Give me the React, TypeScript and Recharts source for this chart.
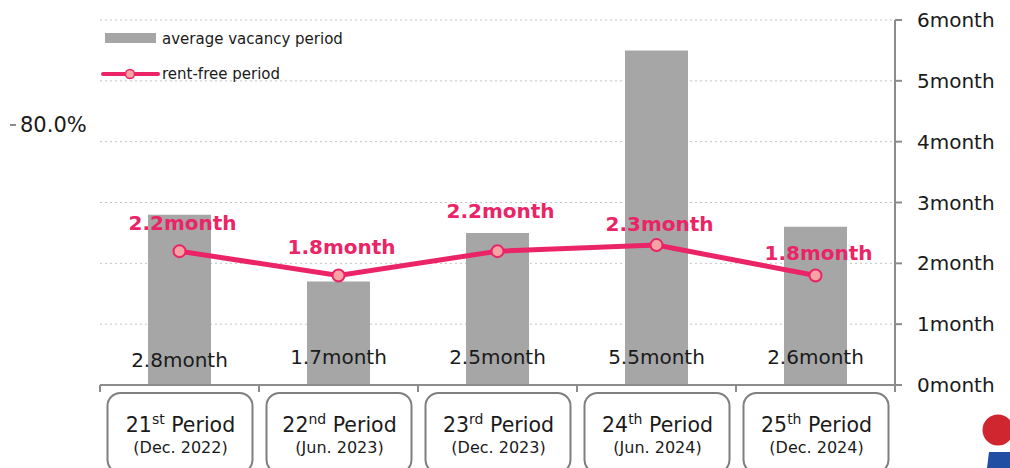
import React from "react";
import { ComposedChart, Bar, Line, XAxis, YAxis, CartesianGrid, LabelList } from "recharts";

const periodNums = ["21", "22", "23", "24", "25"];
const periodSuffixes = ["st", "nd", "rd", "th", "th"];
const periodDates = ["Dec. 2022", "Jun. 2023", "Dec. 2023", "Jun. 2024", "Dec. 2024"];
const vacancyMonths = [2.8, 1.7, 2.5, 5.5, 2.6];
const rentFreeMonths = [2.2, 1.8, 2.2, 2.3, 1.8];
const monthTicks = [0, 1, 2, 3, 4, 5, 6];

// label nudges for the pink values, as in the original deck
const lineLabelDy = [-28, -29, -40, -21, -23];

const data = periodNums.map((n, i) => ({
  name: `${n}${periodSuffixes[i]} Period`,
  vacancy: vacancyMonths[i],
  rentFree: rentFreeMonths[i],
}));

const FONT = "'DejaVu Sans', Verdana, sans-serif";
const PINK = "#ea2466";
const GRAY_BAR = "#a6a6a6";
const AXIS = "#8c8c8c";
const PLOT_BOTTOM = 385;
const BAND = (895 - 100) / periodNums.length;

function PeriodTick(props: any) {
  const { x, index } = props;
  const i = index as number;
  return (
    <g>
      <line x1={x - BAND / 2} x2={x - BAND / 2} y1={PLOT_BOTTOM} y2={PLOT_BOTTOM + 7} stroke={AXIS} strokeWidth={2} />
      {i === periodNums.length - 1 && (
        <line x1={x + BAND / 2} x2={x + BAND / 2} y1={PLOT_BOTTOM} y2={PLOT_BOTTOM + 7} stroke={AXIS} strokeWidth={2} />
      )}
      <rect x={x - 72} y={393} width={145} height={80} rx={13} fill="#fff" stroke="#7f7f7f" strokeWidth={2} />
      <text x={x + 1} y={432} textAnchor="middle" fontFamily={FONT} fontSize={20.5} fill="#1a1a1a">
        {periodNums[i]}
        <tspan fontSize={14} dy={-8}>{periodSuffixes[i]}</tspan>
        <tspan dy={8}>{" Period"}</tspan>
      </text>
      <text x={x + 1} y={453} textAnchor="middle" fontFamily={FONT} fontSize={16} fill="#1a1a1a">
        ({periodDates[i]})
      </text>
    </g>
  );
}

function RentFreeLabel(props: any) {
  const { x, y, value, index } = props;
  return (
    <text x={x + 3} y={y + lineLabelDy[index]} dy={7} textAnchor="middle" fontFamily={FONT} fontSize={20} fontWeight="bold" fill={PINK}>
      {value}month
    </text>
  );
}

function VacancyLabel(props: any) {
  const { x, width, value, index } = props;
  return (
    <text x={x + width / 2} y={PLOT_BOTTOM - 28 + (index === 0 ? 3 : 0)} dy={7} textAnchor="middle" fontFamily={FONT} fontSize={20} fill="#1a1a1a">
      {value}month
    </text>
  );
}

export default function App() {
  return (
    <div style={{ position: "absolute", left: 0, top: 0, width: 1010, height: 468, background: "#fff", overflow: "hidden" }}>
      <ComposedChart width={1010} height={468} data={data} margin={{ top: 20, right: 0, left: 100, bottom: 0 }}>
        <CartesianGrid yAxisId="r" vertical={false} stroke="#c4c4c4" strokeDasharray="2 3" />
        <XAxis
          dataKey="name"
          height={83}
          tick={<PeriodTick />}
          tickLine={false}
          axisLine={{ stroke: AXIS, strokeWidth: 2 }}
          interval={0}
        />
        <YAxis
          yAxisId="r"
          orientation="right"
          width={115}
          domain={[0, 6]}
          ticks={monthTicks}
          tickFormatter={(v) => `${v}month`}
          axisLine={{ stroke: AXIS, strokeWidth: 2 }}
          tickLine={{ stroke: AXIS, strokeWidth: 2 }}
          tickSize={7}
          tickMargin={15}
          tick={{ fill: "#1a1a1a", fontSize: 20, fontFamily: FONT, textAnchor: "start" }}
        />
        <Bar yAxisId="r" dataKey="vacancy" fill={GRAY_BAR} barSize={63} isAnimationActive={false}>
          <LabelList dataKey="vacancy" content={<VacancyLabel />} />
        </Bar>
        <Line
          yAxisId="r"
          type="linear"
          dataKey="rentFree"
          stroke={PINK}
          strokeWidth={5}
          dot={{ r: 6, fill: "#f7a3a6", stroke: PINK, strokeWidth: 2 }}
          isAnimationActive={false}
        >
          <LabelList dataKey="rentFree" content={<RentFreeLabel />} />
        </Line>
      </ComposedChart>
      <svg width={1010} height={468} style={{ position: "absolute", left: 0, top: 0, pointerEvents: "none" }}>
        {/* legend */}
        <rect x={105} y={33} width={51} height={10} fill={GRAY_BAR} />
        <text x={162} y={44} fontFamily={FONT} fontSize={15} fill="#1a1a1a">average vacancy period</text>
        <line x1={103} x2={158} y1={74} y2={74} stroke={PINK} strokeWidth={4} strokeLinecap="round" />
        <circle cx={130} cy={74} r={4.5} fill="#f7a3a6" stroke={PINK} strokeWidth={1.5} />
        <text x={162} y={79} fontFamily={FONT} fontSize={15} fill="#1a1a1a">rent-free period</text>
        {/* cropped left axis */}
        <line x1={10} x2={16} y1={125} y2={125} stroke={AXIS} strokeWidth={2} />
        <text x={20} y={132} fontFamily={FONT} fontSize={21} fill="#1a1a1a">80.0%</text>
        {/* logo corner */}
        <circle cx={998} cy={430} r={15.5} fill="#d0262f" />
        <polygon points="989,452 1010,452 1010,468 987,468" fill="#1f4ea3" />
      </svg>
    </div>
  );
}
